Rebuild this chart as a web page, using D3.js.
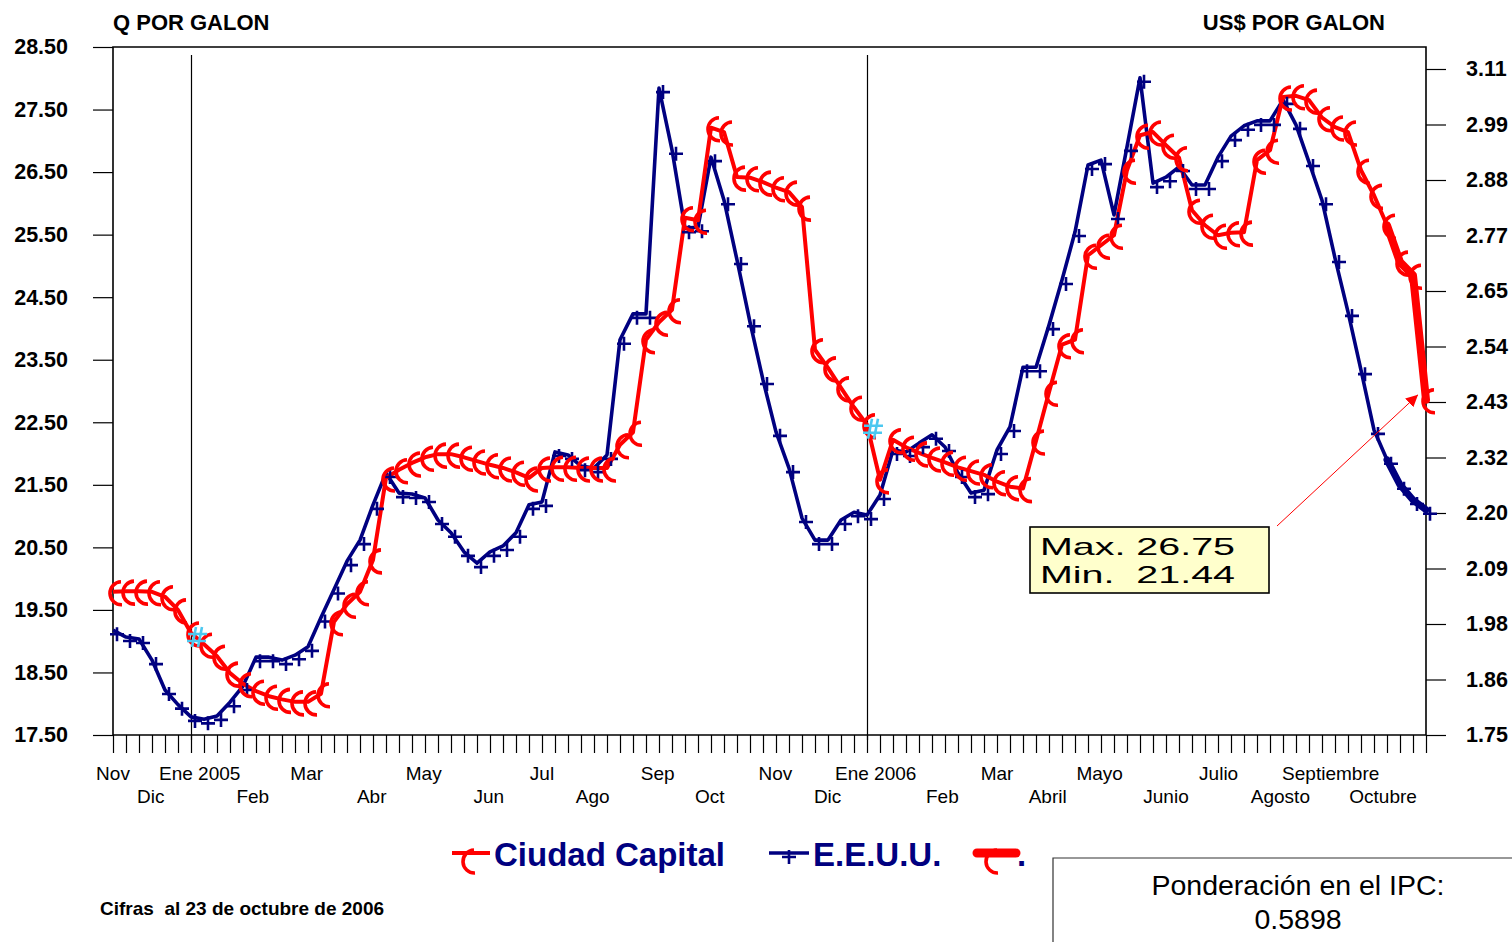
<!DOCTYPE html>
<html><head><meta charset="utf-8">
<script src="https://cdn.jsdelivr.net/npm/d3@7"></script>
<style>
body{margin:0;background:#fff}
svg{display:block}
text{font-family:"Liberation Sans",Arial,sans-serif}
</style>
</head><body>
<svg id="c" width="1512" height="942"></svg>
<script>
// ---- DATA ----
// Ciudad Capital, Q por galón (weekly, Nov 2004 - Oct 2006)
const capital = [
  19.79,19.80,19.80,19.79,19.71,19.50,19.13,18.95,18.76,18.49,
  18.32,18.20,18.12,18.07,18.03,18.03,18.16,19.31,19.59,19.79,
  20.30,21.61,21.74,21.85,21.94,21.99,21.99,21.94,21.88,21.82,
  21.77,21.70,21.61,21.77,21.78,21.78,21.77,21.77,21.77,22.14,
  22.34,23.82,24.10,24.30,25.77,25.73,27.21,27.14,26.42,26.41,
  26.34,26.25,26.18,25.94,23.66,23.37,23.05,22.74,22.46,21.58,
  22.22,22.10,22.01,21.93,21.86,21.78,21.72,21.66,21.55,21.47,
  21.44,22.20,22.98,23.74,23.82,25.17,25.33,25.49,26.53,27.09,
  27.14,26.93,26.73,25.89,25.65,25.49,25.53,25.54,26.69,26.85,
  27.70,27.72,27.65,27.37,27.22,27.14,26.53,26.13,25.65,25.06,
  24.85,22.86
];
// E.E.U.U., US$ por galón
const eeuu = [
  1.964,1.950,1.946,1.903,1.842,1.812,1.787,1.782,1.789,1.817,
  1.850,1.909,1.909,1.903,1.913,1.930,1.990,2.047,2.105,2.148,
  2.220,2.285,2.244,2.242,2.234,2.189,2.163,2.124,2.101,2.124,
  2.136,2.163,2.220,2.226,2.328,2.322,2.299,2.295,2.322,2.557,
  2.610,2.610,3.071,2.945,2.785,2.787,2.930,2.842,2.720,2.593,
  2.475,2.369,2.295,2.193,2.148,2.148,2.189,2.205,2.199,2.240,
  2.332,2.328,2.346,2.363,2.338,2.285,2.244,2.250,2.332,2.379,
  2.501,2.501,2.587,2.679,2.777,2.914,2.924,2.812,2.951,3.092,
  2.877,2.889,2.910,2.873,2.873,2.930,2.973,2.994,3.004,3.004,
  3.047,2.996,2.920,2.842,2.724,2.614,2.495,2.373,2.312,2.261,
  2.230,2.210
];
const tailStart = 98;              // last weeks drawn as the heavy "." series
const eneroIdx = [6, 58];          // first week of January (cyan marks)
const leftTicks = [17.5,18.5,19.5,20.5,21.5,22.5,23.5,24.5,25.5,26.5,27.5,28.5];
const rightTickLabels = ["1.75","1.86","1.98","2.09","2.20","2.32","2.43","2.54","2.65","2.77","2.88","2.99","3.11"];
const monthLabels = [
  ["Nov",0,0],["Dic",2.9,1],["Ene 2005",6.67,0],["Feb",10.75,1],["Mar",14.9,0],
  ["Abr",19.9,1],["May",23.9,0],["Jun",28.9,1],["Jul",33,0],["Ago",36.9,1],
  ["Sep",41.9,0],["Oct",45.9,1],["Nov",50.96,0],["Dic",54.97,1],["Ene 2006",58.67,0],
  ["Feb",63.8,1],["Mar",68,0],["Abril",71.9,1],["Mayo",75.9,0],["Junio",81,1],
  ["Julio",85.05,0],["Agosto",89.8,1],["Septiembre",93.67,0],["Octubre",97.7,1]
];
const legendNames = ["Ciudad Capital","E.E.U.U.","."];
const annotation = ["Max. 26.75","Min.  21.44"];
const footnote = "Cifras  al 23 de octubre de 2006";
const ponderacion = ["Ponderación en el IPC:","0.5898"];

// ---- CHART ----
const RED="#ff0000", NAVY="#000080", CYAN="#4cc8f0";
const svg = d3.select("#c");
const L=113, R=1426, T=47, B=735;
const N = capital.length;
const x = d3.scaleLinear().domain([0,N-1]).range([L,R]);
const yL = d3.scaleLinear().domain([17.5,28.5]).range([B,T]);
const yR = d3.scaleLinear().domain([1.75,3.11]).range([B,69]);
const rStep = (3.11-1.75)/(rightTickLabels.length-1);
const rightTickVals = rightTickLabels.map((_,i)=>1.75+i*rStep);

// axes
const gL = svg.append("g").attr("transform",`translate(${L},0)`)
  .call(d3.axisLeft(yL).tickValues(leftTicks).tickSize(20).tickSizeOuter(0).tickPadding(25).tickFormat(d3.format(".2f")));
const gR = svg.append("g").attr("transform",`translate(${R},0)`)
  .call(d3.axisRight(yR).tickValues(rightTickVals).tickSize(20).tickSizeOuter(0).tickPadding(20).tickFormat((d,i)=>rightTickLabels[i]));
const gB = svg.append("g").attr("transform",`translate(0,${B})`)
  .call(d3.axisBottom(x).tickValues(d3.range(N)).tickSize(18).tickSizeOuter(0).tickFormat(""));
[gL,gR,gB].forEach(g=>{
  g.select(".domain").remove();
  g.selectAll(".tick line").attr("stroke","#000").attr("stroke-width",1.2);
});
[gL,gR].forEach(g=>g.selectAll(".tick text").attr("font-size",21.5).attr("font-weight","bold").attr("fill","#000"));

// frame
svg.append("path").attr("fill","none").attr("stroke","#000").attr("stroke-width",1.6)
  .attr("d",`M${L},${B}V${T}H${R}V${B}H${L}`);

// January separators
eneroIdx.forEach(i=>{
  svg.append("line").attr("x1",Math.round(x(i))+0.5).attr("x2",Math.round(x(i))+0.5).attr("y1",55).attr("y2",740)
    .attr("stroke","#000").attr("stroke-width",1.2);
});

// month labels
svg.append("g").selectAll("text").data(monthLabels).join("text")
  .attr("x",d=>x(d[1])).attr("y",d=>d[2]?803:780)
  .attr("text-anchor","middle").attr("font-size",19).attr("fill","#000").text(d=>d[0]);

// titles
svg.append("text").attr("x",113).attr("y",30).attr("font-size",22).attr("font-weight","bold").text("Q POR GALON");
svg.append("text").attr("x",1385).attr("y",30).attr("text-anchor","end").attr("font-size",22).attr("font-weight","bold").text("US$ POR GALON");

// lines
const lineL = d3.line().x((d,i)=>x(i)).y(d=>yL(d));
const lineR = d3.line().x((d,i)=>x(i)).y(d=>yR(d));
svg.append("path").attr("d",lineR(eeuu)).attr("fill","none").attr("stroke",NAVY).attr("stroke-width",3.6).attr("stroke-linejoin","round");
svg.append("path").attr("d",lineL(capital)).attr("fill","none").attr("stroke",RED).attr("stroke-width",4).attr("stroke-linejoin","round");

// heavy tail series
const tailIdx = d3.range(tailStart,N);
const tailLineL = d3.line().x(i=>x(i)).y(i=>yL(capital[i]));
const tailLineR = d3.line().x(i=>x(i)).y(i=>yR(eeuu[i]));
svg.append("path").attr("d",tailLineR(tailIdx)).attr("fill","none").attr("stroke",NAVY).attr("stroke-width",7).attr("stroke-linecap","round").attr("stroke-linejoin","round");
svg.append("path").attr("d",tailLineL(tailIdx)).attr("fill","none").attr("stroke",RED).attr("stroke-width",8).attr("stroke-linecap","round").attr("stroke-linejoin","round");

// markers
function capMark(px,py){return `M${px+8},${py-10}A11.5,11.5 0 0 0 ${px+9},${py+13}`;}
function plusMark(px,py){return `M${px-3},${py+4}h14M${px+4},${py-3}v14`;}
svg.append("path").attr("fill","none").attr("stroke",NAVY).attr("stroke-width",2.6)
  .attr("d",eeuu.map((v,i)=>plusMark(x(i),yR(v))).join(""));
svg.append("path").attr("fill","none").attr("stroke",RED).attr("stroke-width",3.6)
  .attr("d",capital.map((v,i)=>capMark(x(i),yL(v))).join(""));

// cyan # marks
eneroIdx.forEach(i=>{
  const cx=x(i)+6, cy=yL(capital[i])+4;
  svg.append("path").attr("fill","none").attr("stroke",CYAN).attr("stroke-width",2.6)
    .attr("d",`M${cx-1},${cy-10}L${cx-5},${cy+10}M${cx+5},${cy-10}L${cx+1},${cy+10}M${cx-9},${cy-3}H${cx+10}M${cx-10},${cy+4}H${cx+9}`);
});

// annotation box + arrow
svg.append("rect").attr("x",1030).attr("y",527).attr("width",239).attr("height",66)
  .attr("fill","#ffffcc").attr("stroke","#000").attr("stroke-width",1.6);
annotation.forEach((t,k)=>{
  svg.append("text").attr("x",1040).attr("y",555+k*28).attr("font-size",24)
    .attr("textLength",195).attr("lengthAdjust","spacingAndGlyphs").attr("fill","#000").style("white-space","pre").text(t);
});
svg.append("defs").append("marker").attr("id","ah").attr("viewBox","0 0 10 10").attr("refX",10).attr("refY",5)
  .attr("markerWidth",12).attr("markerHeight",12).attr("markerUnits","userSpaceOnUse").attr("orient","auto")
  .append("path").attr("d","M0,0L10,5L0,10z").attr("fill",RED);
svg.append("line").attr("x1",1277).attr("y1",526).attr("x2",x(N-1)-8).attr("y2",yL(capital[N-1])-5)
  .attr("stroke",RED).attr("stroke-width",1).attr("marker-end","url(#ah)");

// legend
const ly=853;
svg.append("line").attr("x1",452).attr("x2",490).attr("y1",ly).attr("y2",ly).attr("stroke",RED).attr("stroke-width",4);
svg.append("path").attr("d",capMark(466,ly+7)).attr("fill","none").attr("stroke",RED).attr("stroke-width",3.6);
svg.append("text").attr("x",494).attr("y",866).attr("font-size",33).attr("font-weight","bold").attr("fill",NAVY).text(legendNames[0]);
svg.append("line").attr("x1",769).attr("x2",809).attr("y1",ly).attr("y2",ly).attr("stroke",NAVY).attr("stroke-width",3.6);
svg.append("path").attr("d",plusMark(785,ly)).attr("fill","none").attr("stroke",NAVY).attr("stroke-width",2.6);
svg.append("text").attr("x",813).attr("y",866).attr("font-size",33).attr("font-weight","bold").attr("fill",NAVY).text(legendNames[1]);
svg.append("line").attr("x1",977).attr("x2",1016).attr("y1",ly).attr("y2",ly).attr("stroke",RED).attr("stroke-width",9).attr("stroke-linecap","round");
svg.append("path").attr("d",capMark(989,ly+7)).attr("fill","none").attr("stroke",RED).attr("stroke-width",3.6);
svg.append("text").attr("x",1017).attr("y",866).attr("font-size",33).attr("font-weight","bold").attr("fill",NAVY).text(legendNames[2]);

// footnote
svg.append("text").attr("x",100).attr("y",915).attr("font-size",19).attr("font-weight","bold").style("white-space","pre").text(footnote);

// ponderación box
svg.append("path").attr("d","M1053,942V858H1512").attr("fill","none").attr("stroke","#333").attr("stroke-width",1.2);
ponderacion.forEach((t,k)=>{
  svg.append("text").attr("x",1298).attr("y",895+k*34).attr("text-anchor","middle").attr("font-size",28.5).attr("fill","#000").text(t);
});
</script>
</body></html>
